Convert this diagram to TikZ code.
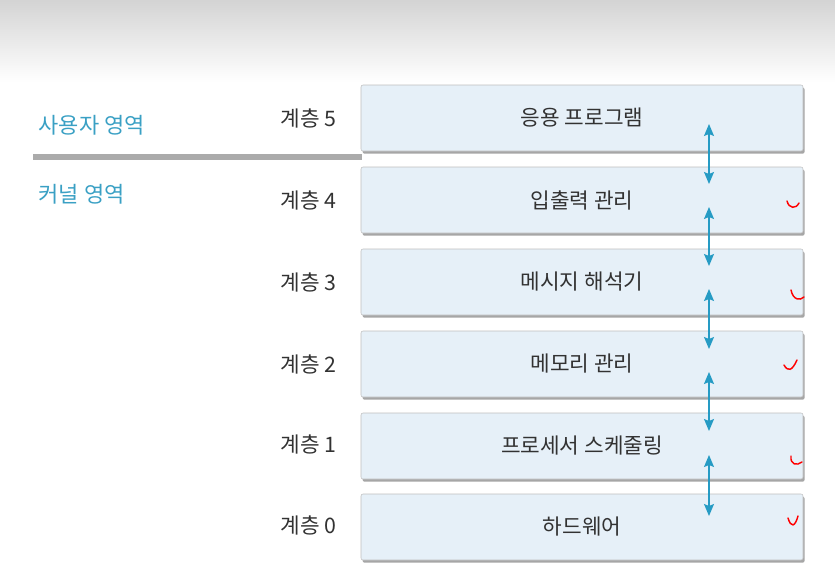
\documentclass[tikz,border=0pt]{standalone}
\usepackage{fontspec}
\setmainfont{Noto Sans CJK KR}
\usetikzlibrary{arrows.meta,shadows}
\definecolor{tealcolor}{RGB}{58,160,196}
\definecolor{arrowcolor}{RGB}{38,155,196}
\definecolor{boxcolor}{RGB}{230,240,248}
\definecolor{textcolor}{RGB}{50,50,50}

\tikzset{
  layer/.style={draw=black!25,fill=boxcolor,rounded corners=1.5pt,
    minimum width=331.5pt,minimum height=49.5pt,inner sep=0pt,
    font=\fontsize{16}{18}\selectfont,text=textcolor,
    drop shadow={shadow xshift=1.2pt,shadow yshift=-2pt,fill=black,opacity=.35}},
  level/.style={anchor=east,font=\fontsize{16}{18}\selectfont,text=textcolor},
  area/.style={anchor=west,font=\fontsize{16.5}{18}\selectfont,text=tealcolor},
  link/.style={<->,>={Stealth[length=9pt,width=7.5pt,inset=1.5pt]},arrowcolor,line width=0.9pt},
  tick/.style={red,line width=1.1pt,line cap=round}
}

\begin{document}
\begin{tikzpicture}[x=0.75pt,y=-0.75pt]
\useasboundingbox (0,0) rectangle (835,582);
\shade[top color=black!17,bottom color=white] (0,0) rectangle (835,82);

% layers
\node[layer] (L5) at (582,118) {응용 프로그램};
\node[layer] (L4) at (582,200) {입출력 관리};
\node[layer] (L3) at (582,282) {메시지 해석기};
\node[layer] (L2) at (582,364) {메모리 관리};
\node[layer] (L1) at (582,446) {프로세서 스케줄링};
\node[layer] (L0) at (582,527) {하드웨어};

\node[level] (n5) at (341,118) {계층 5};
\node[level] (n4) at (341,200) {계층 4};
\node[level] (n3) at (341,282) {계층 3};
\node[level] (n2) at (341,364) {계층 2};
\node[level] (n1) at (341,444) {계층 1};
\node[level] (n0) at (341,525) {계층 0};

% user / kernel split
\node[area] (user) at (34,125) {사용자 영역};
\node[area] (kernel) at (34,194) {커널 영역};
\coordinate (s1) at (33,157);
\coordinate (s2) at (362,157);
\draw[black!33,line width=4.5pt] (s1) -- (s2);

% calls between layers
\coordinate (u5) at (709,124);
\coordinate (d4) at (709,184);
\coordinate (u4) at (709,207);
\coordinate (d3) at (709,266);
\coordinate (u3) at (709,289);
\coordinate (d2) at (709,349);
\coordinate (u2) at (709,372);
\coordinate (d1) at (709,431);
\coordinate (u1) at (709,455);
\coordinate (d0) at (709,516);
\draw[link] (u5) -- (d4);
\draw[link] (u4) -- (d3);
\draw[link] (u3) -- (d2);
\draw[link] (u2) -- (d1);
\draw[link] (u1) -- (d0);

% red marks
\draw[tick] (787,201) .. controls (789,209) and (796,209) .. (799,203);
\draw[tick] (791,290) .. controls (793,300) and (800,301) .. (804,297);
\draw[tick] (784,365) .. controls (788,372) and (792,371) .. (797,360);
\draw[tick] (791,456) .. controls (790,465) and (797,466) .. (802,462);
\draw[tick] (788,518) .. controls (791,528) and (795,527) .. (798,516);
\end{tikzpicture}
\end{document}
